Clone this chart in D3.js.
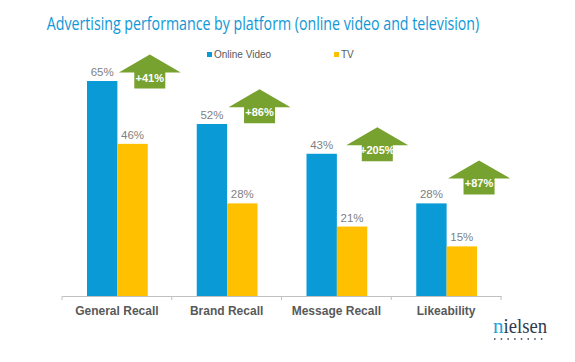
<!DOCTYPE html>
<html><head><meta charset="utf-8">
<script src="https://cdn.jsdelivr.net/npm/d3@7"></script>
<style>body{margin:0;background:#fff}svg{display:block}</style>
</head><body>
<svg id="c" width="575" height="362"></svg>
<script>
const categories = ["General Recall", "Brand Recall", "Message Recall", "Likeability"];
const seriesNames = ["Online Video", "TV"];
const onlineVideo = [65, 52, 43, 28];
const tv = [46, 28, 21, 15];
const liftLabels = ["+41%", "+86%", "+205%", "+87%"];
const arrowTipLevel = [73, 62.5, 51, 41];
const title = "Advertising performance by platform (online video and television)";

const svg = d3.select("#c");
const colors = {"Online Video": "#0a9bd7", "TV": "#ffc000"};

const x = d3.scaleBand().domain(categories).range([62, 501]).paddingInner(0).paddingOuter(0);
const x1 = d3.scaleBand().domain(seriesNames).range([25, x.bandwidth() - 24]).padding(0);
const y = d3.scaleLinear().domain([0, 65]).range([296, 81]);

// title (horizontally condensed to match the narrow original face)
const tg = svg.append("g").attr("transform", "translate(263,30)");
const tt = tg.append("text").attr("x", 0).attr("y", 0).attr("text-anchor", "middle")
  .attr("font-family", "'Open Sans', sans-serif").attr("font-size", 17.5).attr("font-weight", 500)
  .attr("fill", "#0f97d6").text(title);
const tw = tt.node().getComputedTextLength();
tg.attr("transform", `translate(263,30) scale(${433 / tw},1)`);

// legend
const legX = [207, 334];
seriesNames.forEach((s, i) => {
  svg.append("rect").attr("x", legX[i]).attr("y", 52).attr("width", 5).attr("height", 5).attr("fill", colors[s]);
  svg.append("text").attr("x", legX[i] + 7).attr("y", 58).attr("font-family", "'Liberation Sans', Arial, sans-serif")
    .attr("font-size", 10).attr("fill", "#595959").text(s);
});

const data = categories.map((c, i) => ({cat: c, vals: [{s: "Online Video", v: onlineVideo[i]}, {s: "TV", v: tv[i]}]}));

const g = svg.selectAll("g.grp").data(data).join("g").attr("class", "grp")
  .attr("transform", d => `translate(${x(d.cat)},0)`);
g.selectAll("rect").data(d => d.vals).join("rect")
  .attr("x", d => x1(d.s)).attr("width", x1.bandwidth())
  .attr("y", d => y(d.v)).attr("height", d => y(0) - y(d.v))
  .attr("fill", d => colors[d.s]);
g.selectAll("text.val").data(d => d.vals).join("text").attr("class", "val")
  .attr("x", d => x1(d.s) + x1.bandwidth() / 2).attr("y", d => y(d.v) - 5)
  .attr("text-anchor", "middle").attr("font-family", "'Liberation Sans', Arial, sans-serif")
  .attr("font-size", 11.5).attr("fill", "#7f7f7f").text(d => d.v + "%");

// axis
const axis = d3.axisBottom(x).tickSize(0).tickPadding(10);
const ax = svg.append("g").attr("transform", "translate(0,296)").call(axis);
ax.select(".domain").attr("stroke", "#c0c0c0");
ax.selectAll("text").attr("font-family", "'Liberation Sans', Arial, sans-serif")
  .attr("font-size", 12).attr("font-weight", "bold").attr("fill", "#595959");
const edges = categories.map(c => x(c)).concat([x.range()[1]]);
ax.selectAll("line.edge").data(edges).join("line").attr("class", "edge")
  .attr("x1", d => d).attr("x2", d => d).attr("y1", 0).attr("y2", 4).attr("stroke", "#c0c0c0");

// arrows
categories.forEach((c, i) => {
  const cx = x(c) + x.bandwidth() * 0.8 + (i === 2 ? 8 : 0);
  const tip = y(arrowTipLevel[i]);
  const hw = 31, sw = 15.5, hh = 18, tot = 34;
  const pts = [[cx, tip], [cx + hw, tip + hh], [cx + sw, tip + hh], [cx + sw, tip + tot],
    [cx - sw, tip + tot], [cx - sw, tip + hh], [cx - hw, tip + hh]];
  svg.append("path").attr("d", d3.line()(pts) + "Z").attr("fill", "#78a22f");
  svg.append("text").attr("x", cx).attr("y", tip + 27).attr("text-anchor", "middle")
    .attr("font-family", "'Liberation Sans', Arial, sans-serif").attr("font-size", 11)
    .attr("font-weight", "bold").attr("fill", "#fff").text(liftLabels[i]);
});

// logo
svg.append("text").attr("x", 493).attr("y", 333)
  .attr("font-family", "'Liberation Serif', 'DejaVu Serif', serif").attr("font-size", 21)
  .attr("fill", "#1aa3dd").text("n");
svg.append("text").attr("x", 503.5).attr("y", 333)
  .attr("font-family", "'Liberation Serif', 'DejaVu Serif', serif").attr("font-size", 21)
  .attr("fill", "#2f3a4e").attr("textLength", 43.5).attr("lengthAdjust", "spacingAndGlyphs").text("ielsen");
svg.append("line").attr("x1", 494).attr("x2", 547).attr("y1", 339).attr("y2", 339)
  .attr("stroke", "#2f3a4e").attr("stroke-width", 1.5).attr("stroke-dasharray", "1.5,5.2");
</script>
</body></html>
